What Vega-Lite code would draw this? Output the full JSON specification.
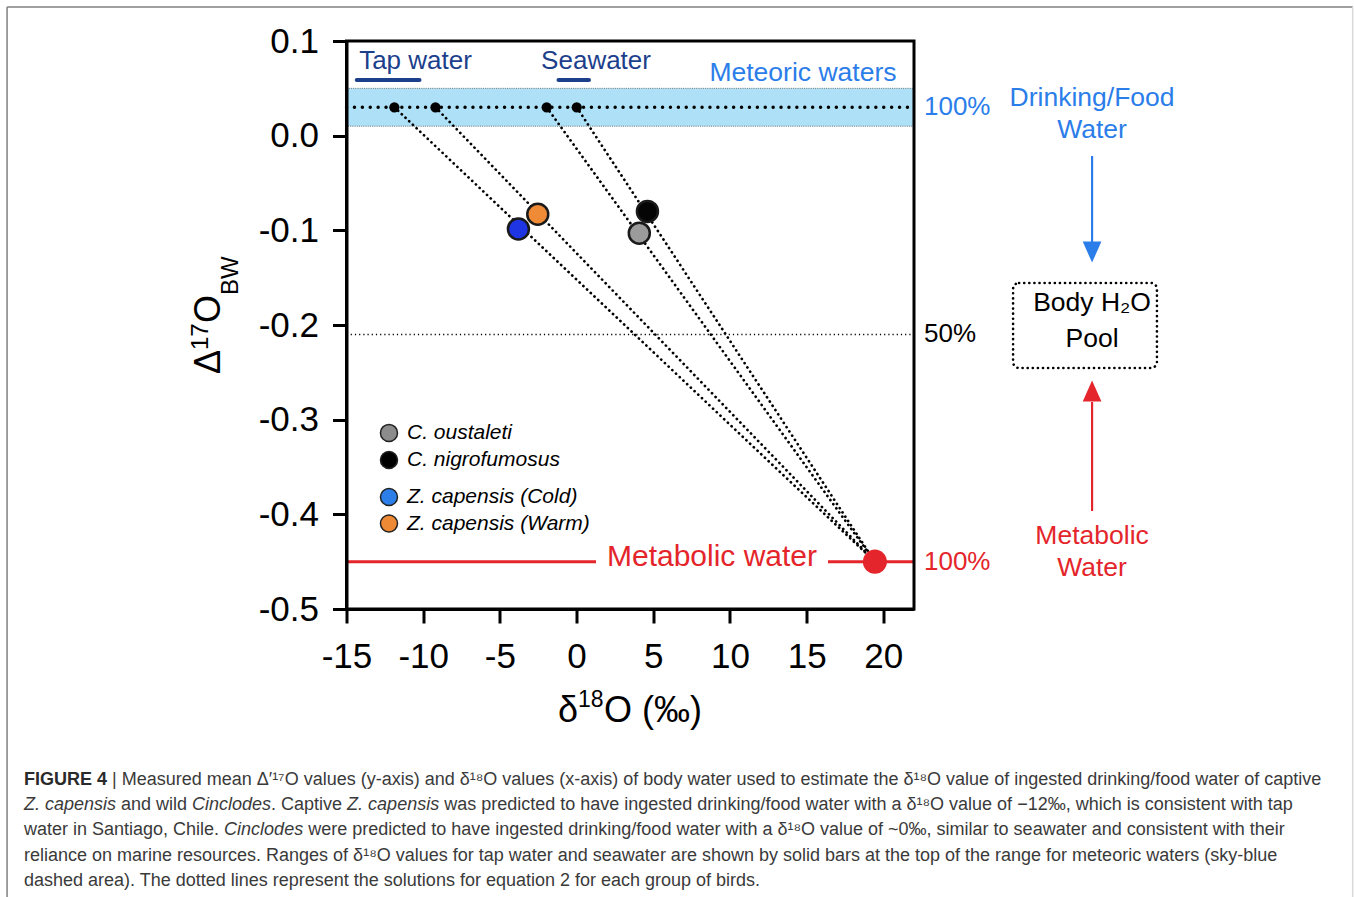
{
  "$schema": "https://vega.github.io/schema/vega-lite/v6.json",
  "width": 567.5,
  "height": 568,
  "autosize": {"type": "none"},
  "padding": {"left": 346.5, "top": 41, "right": 440, "bottom": 288},
  "background": "white",
  "config": {"view": {"stroke": null}, "font": "Liberation Sans"},
  "datasets": {
    "meteoric": [{"x": -15, "x2": 22, "y": 0.01, "y2": 0.05}],
    "halfLine": [{"x": -15, "x2": 22, "y": -0.21}],
    "metabolicLine": [{"x": -15, "x2": 1.27, "y": -0.45}, {"x": 16.39, "x2": 22, "y": -0.45}],
    "drinkingLine": [{"x": -15, "x2": 22, "y": 0.03}],
    "ranges": [{"name": "Tap water", "x": -14.33, "x2": -10.24, "y": 0.0588}, {"name": "Seawater", "x": -1.18, "x2": 0.81, "y": 0.0588}],
    "solutions": [
      {"group": "Z. capensis (Cold)", "x": -11.88, "y": 0.03},
      {"group": "Z. capensis (Cold)", "x": 19.45, "y": -0.45},
      {"group": "Z. capensis (Warm)", "x": -9.2, "y": 0.03},
      {"group": "Z. capensis (Warm)", "x": 19.45, "y": -0.45},
      {"group": "C. oustaleti", "x": -1.95, "y": 0.03},
      {"group": "C. oustaleti", "x": 19.45, "y": -0.45},
      {"group": "C. nigrofumosus", "x": 0.01, "y": 0.03},
      {"group": "C. nigrofumosus", "x": 19.45, "y": -0.45}
    ],
    "sources": [
      {"group": "Z. capensis (Cold)", "x": -11.88, "y": 0.03},
      {"group": "Z. capensis (Warm)", "x": -9.2, "y": 0.03},
      {"group": "C. oustaleti", "x": -1.95, "y": 0.03},
      {"group": "C. nigrofumosus", "x": 0.01, "y": 0.03}
    ],
    "birds": [
      {"species": "C. nigrofumosus", "x": 4.62, "y": -0.08},
      {"species": "Z. capensis (Cold)", "x": -3.79, "y": -0.0986},
      {"species": "C. oustaleti", "x": 4.09, "y": -0.103},
      {"species": "Z. capensis (Warm)", "x": -2.53, "y": -0.083}
    ],
    "metabolic": [{"x": 19.45, "y": -0.45}],
    "legend": [
      {"label": "C. oustaleti", "x": -12.23, "y": -0.314},
      {"label": "C. nigrofumosus", "x": -12.23, "y": -0.3426},
      {"label": "Z. capensis (Cold)", "x": -12.23, "y": -0.3817},
      {"label": "Z. capensis (Warm)", "x": -12.23, "y": -0.4097}
    ],
    "rangeLabels": [{"text": "Tap water", "x": -10.5, "y": 0.0704}, {"text": "Seawater", "x": 1.27, "y": 0.0704}],
    "meteoricLabel": [{"text": "Meteoric waters", "x": 14.76, "y": 0.0577, "kind": "drink"}],
    "metabolicLabel": [{"text": "Metabolic water", "x": 8.83, "y": -0.4546, "kind": "metabolic"}],
    "pctLabels": [
      {"text": "100%", "x": 22.65, "y": 0.03, "kind": "drink"},
      {"text": "50%", "x": 22.65, "y": -0.21, "kind": "half"},
      {"text": "100%", "x": 22.65, "y": -0.45, "kind": "metabolic"}
    ],
    "sideLabels": [
      {"text": "Drinking/Food", "x": 33.61, "y": 0.0398, "kind": "drink"},
      {"text": "Water", "x": 33.61, "y": 0.006, "kind": "drink"},
      {"text": "Body H₂O", "x": 33.61, "y": -0.1768, "kind": "pool"},
      {"text": "Pool", "x": 33.61, "y": -0.2148, "kind": "pool"},
      {"text": "Metabolic", "x": 33.61, "y": -0.4229, "kind": "metabolic"},
      {"text": "Water", "x": 33.61, "y": -0.4567, "kind": "metabolic"}
    ],
    "arrows": [
      {"kind": "drink", "x": 33.61, "y": -0.0215, "y2": -0.1134},
      {"kind": "metabolic", "x": 33.61, "y": -0.2813, "y2": -0.3965}
    ],
    "arrowDown": [{"x": 33.61, "y": -0.123}],
    "arrowUp": [{"x": 33.61, "y": -0.2696}],
    "pool": [{"x": 28.46, "x2": 37.84, "y": -0.1556, "y2": -0.2454}],
    "xTitleBig": [{"text": "δ", "x": -1.21, "y": -0.6194}, {"text": "O (‰)", "x": 1.79, "y": -0.6194}],
    "xTitleSmall": [{"text": "18", "x": 0.09, "y": -0.6035}],
    "yTitleBig": [{"text": "Δ", "x": -23.25, "y": -0.2518}, {"text": "O", "x": -23.25, "y": -0.1979}],
    "yTitleSmall": [{"text": "17", "x": -24.03, "y": -0.2264}, {"text": "BW", "x": -22.07, "y": -0.1683}],
    "captionBold": [{"text": "FIGURE 4", "x": -36.03, "y": -0.6806}],
    "captionItalic": [
      {"text": "Z. capensis", "x": -36.03, "y": -0.7071},
      {"text": "Cinclodes", "x": -25.07, "y": -0.7071},
      {"text": "Z. capensis", "x": -14.96, "y": -0.7071},
      {"text": "Cinclodes", "x": -22.98, "y": -0.7335}
    ],
    "captionNormal": [
      {"text": "| Measured mean Δ′¹⁷O values (y-axis) and δ¹⁸O values (x-axis) of body water used to estimate the δ¹⁸O value of ingested drinking/food water of captive", "x": -30.29, "y": -0.6806},
      {"text": "and wild", "x": -29.7, "y": -0.7071},
      {"text": ". Captive", "x": -19.92, "y": -0.7071},
      {"text": "was predicted to have ingested drinking/food water with a δ¹⁸O value of −12‰, which is consistent with tap", "x": -8.63, "y": -0.7071},
      {"text": "water in Santiago, Chile.", "x": -36.03, "y": -0.7335},
      {"text": "were predicted to have ingested drinking/food water with a δ¹⁸O value of ~0‰, similar to seawater and consistent with their", "x": -17.5, "y": -0.7335},
      {"text": "reliance on marine resources. Ranges of δ¹⁸O values for tap water and seawater are shown by solid bars at the top of the range for meteoric waters (sky-blue", "x": -36.03, "y": -0.7609},
      {"text": "dashed area). The dotted lines represent the solutions for equation 2 for each group of birds.", "x": -36.03, "y": -0.7873}
    ],
    "frameDark": [
      {"x": -37.13, "x2": 50.6, "y": 0.136, "y2": 0.136},
      {"x": -37.13, "x2": -37.13, "y": 0.136, "y2": -0.83}
    ],
    "frameLight": [{"x": 50.6, "x2": 50.6, "y": 0.136, "y2": -0.83}],
    "plotFrame": [{"x": -15, "x2": 22, "y": -0.5, "y2": 0.1}]
  },
  "encoding": {
    "x": {
      "field": "x", "type": "quantitative",
      "scale": {"domain": [-15, 22], "nice": false, "zero": false},
      "axis": {
        "values": [-15, -10, -5, 0, 5, 10, 15, 20], "title": null, "grid": false,
        "domainColor": "black", "domainWidth": 3, "tickColor": "black", "tickWidth": 3, "tickSize": 14,
        "labelFontSize": 35, "labelFont": "Liberation Sans", "labelColor": "black", "labelPadding": 16,
        "labelFlush": false, "labelOverlap": false, "labelBound": false,
        "labelExpr": "replace(datum.label, '\u2212', '-')", "zindex": 1
      }
    },
    "y": {
      "field": "y", "type": "quantitative",
      "scale": {"domain": [-0.5, 0.1], "nice": false, "zero": false},
      "axis": {
        "values": [-0.5, -0.4, -0.3, -0.2, -0.1, 0, 0.1], "format": ".1f", "title": null, "grid": false,
        "domainColor": "black", "domainWidth": 3, "tickColor": "black", "tickWidth": 3, "tickSize": 14,
        "labelFontSize": 35, "labelFont": "Liberation Sans", "labelColor": "black", "labelPadding": 14,
        "labelFlush": false, "labelOverlap": false, "labelBound": false,
        "labelExpr": "replace(datum.label, '\u2212', '-')", "zindex": 1
      }
    }
  },
  "resolve": {"scale": {"fill": "independent"}},
  "layer": [
    {
      "data": {"name": "meteoric"},
      "mark": {"type": "rect", "fill": "#aee1f7", "stroke": "#6f6f6f", "strokeWidth": 1, "strokeDash": [1, 1.2]},
      "encoding": {"x2": {"field": "x2"}, "y2": {"field": "y2"}}
    },
    {
      "data": {"name": "halfLine"},
      "mark": {"type": "rule", "color": "black", "strokeWidth": 1.5, "strokeDash": [1.2, 3]},
      "encoding": {"x2": {"field": "x2"}}
    },
    {
      "data": {"name": "metabolicLine"},
      "mark": {"type": "rule", "color": "#e4252b", "strokeWidth": 3},
      "encoding": {"x2": {"field": "x2"}}
    },
    {
      "data": {"name": "drinkingLine"},
      "mark": {"type": "rule", "color": "black", "strokeWidth": 3.4, "strokeDash": [0.1, 7.8], "strokeCap": "round"},
      "encoding": {"x2": {"field": "x2"}}
    },
    {
      "data": {"name": "ranges"},
      "mark": {"type": "rule", "color": "#1c3f8c", "strokeWidth": 4, "strokeCap": "round"},
      "encoding": {"x2": {"field": "x2"}}
    },
    {
      "data": {"name": "solutions"},
      "mark": {"type": "line", "color": "black", "strokeWidth": 2.7, "strokeDash": [0.1, 5], "strokeCap": "round"},
      "encoding": {"detail": {"field": "group", "type": "nominal"}}
    },
    {
      "data": {"name": "sources"},
      "mark": {"type": "point", "filled": true, "color": "black", "size": 105, "opacity": 1}
    },
    {
      "data": {"name": "birds"},
      "mark": {"type": "point", "filled": true, "size": 440, "opacity": 1, "stroke": "#1a1a1a", "strokeWidth": 2.5},
      "encoding": {
        "fill": {"field": "species", "type": "nominal", "legend": null,
          "scale": {"domain": ["C. oustaleti", "C. nigrofumosus", "Z. capensis (Cold)", "Z. capensis (Warm)"],
                    "range": ["#9b9b9b", "#050505", "#1f35e3", "#ef8a37"]}}
      }
    },
    {
      "data": {"name": "metabolic"},
      "mark": {"type": "point", "filled": true, "color": "#e4252b", "size": 580, "opacity": 1}
    },
    {
      "data": {"name": "legend"},
      "mark": {"type": "point", "filled": true, "size": 290, "opacity": 1, "stroke": "#222222", "strokeWidth": 1.5},
      "encoding": {
        "fill": {"field": "label", "type": "nominal", "legend": null,
          "scale": {"domain": ["C. oustaleti", "C. nigrofumosus", "Z. capensis (Cold)", "Z. capensis (Warm)"],
                    "range": ["#8c8c8c", "#000000", "#2c7fe8", "#ee8a36"]}}
      }
    },
    {
      "data": {"name": "legend"},
      "mark": {"type": "text", "align": "left", "baseline": "middle", "dx": 18, "fontSize": 21, "fontStyle": "italic", "font": "Liberation Sans", "color": "black"},
      "encoding": {"text": {"field": "label", "type": "nominal"}}
    },
    {
      "data": {"name": "rangeLabels"},
      "mark": {"type": "text", "align": "center", "baseline": "alphabetic", "fontSize": 26, "font": "Liberation Sans", "color": "#1c3f8c"},
      "encoding": {"text": {"field": "text", "type": "nominal"}}
    },
    {
      "data": {"name": "meteoricLabel"},
      "mark": {"type": "text", "align": "center", "baseline": "alphabetic", "fontSize": 26.5, "font": "Liberation Sans"},
      "encoding": {
        "text": {"field": "text", "type": "nominal"},
        "color": {"field": "kind", "type": "nominal", "legend": null,
          "scale": {"domain": ["drink", "half", "pool", "metabolic"], "range": ["#2b7de9", "#000000", "#000000", "#e4252b"]}}
      }
    },
    {
      "data": {"name": "metabolicLabel"},
      "mark": {"type": "text", "align": "center", "baseline": "alphabetic", "fontSize": 30, "font": "Liberation Sans"},
      "encoding": {
        "text": {"field": "text", "type": "nominal"},
        "color": {"field": "kind", "type": "nominal", "legend": null,
          "scale": {"domain": ["drink", "half", "pool", "metabolic"], "range": ["#2b7de9", "#000000", "#000000", "#e4252b"]}}
      }
    },
    {
      "data": {"name": "pctLabels"},
      "mark": {"type": "text", "align": "left", "baseline": "middle", "fontSize": 26, "font": "Liberation Sans"},
      "encoding": {
        "text": {"field": "text", "type": "nominal"},
        "color": {"field": "kind", "type": "nominal", "legend": null,
          "scale": {"domain": ["drink", "half", "pool", "metabolic"], "range": ["#2b7de9", "#000000", "#000000", "#e4252b"]}}
      }
    },
    {
      "data": {"name": "sideLabels"},
      "mark": {"type": "text", "align": "center", "baseline": "middle", "fontSize": 26.5, "font": "Liberation Sans"},
      "encoding": {
        "text": {"field": "text", "type": "nominal"},
        "color": {"field": "kind", "type": "nominal", "legend": null,
          "scale": {"domain": ["drink", "half", "pool", "metabolic"], "range": ["#2b7de9", "#000000", "#000000", "#e4252b"]}}
      }
    },
    {
      "data": {"name": "arrows"},
      "mark": {"type": "rule", "strokeWidth": 2.2},
      "encoding": {
        "y2": {"field": "y2"},
        "color": {"field": "kind", "type": "nominal", "legend": null,
          "scale": {"domain": ["drink", "half", "pool", "metabolic"], "range": ["#2b7de9", "#000000", "#000000", "#e4252b"]}}
      }
    },
    {
      "data": {"name": "arrowDown"},
      "mark": {"type": "point", "filled": true, "opacity": 1, "color": "#2b7de9", "size": 441, "shape": "M-0.89,-1L0.89,-1L0,1Z"}
    },
    {
      "data": {"name": "arrowUp"},
      "mark": {"type": "point", "filled": true, "opacity": 1, "color": "#e4252b", "size": 441, "shape": "M-0.89,1L0.89,1L0,-1Z"}
    },
    {
      "data": {"name": "pool"},
      "mark": {"type": "rect", "fillOpacity": 0, "stroke": "black", "strokeWidth": 2.6, "strokeDash": [0.1, 5], "strokeCap": "round", "cornerRadius": 6},
      "encoding": {"x2": {"field": "x2"}, "y2": {"field": "y2"}}
    },
    {
      "data": {"name": "plotFrame"},
      "mark": {"type": "rect", "fillOpacity": 0, "stroke": "black", "strokeWidth": 3},
      "encoding": {"x2": {"field": "x2"}, "y2": {"field": "y2"}}
    },
    {
      "data": {"name": "xTitleBig"},
      "mark": {"type": "text", "align": "left", "baseline": "alphabetic", "fontSize": 36, "font": "Liberation Sans", "color": "black"},
      "encoding": {"text": {"field": "text", "type": "nominal"}}
    },
    {
      "data": {"name": "xTitleSmall"},
      "mark": {"type": "text", "align": "left", "baseline": "alphabetic", "fontSize": 23, "font": "Liberation Sans", "color": "black"},
      "encoding": {"text": {"field": "text", "type": "nominal"}}
    },
    {
      "data": {"name": "yTitleBig"},
      "mark": {"type": "text", "align": "left", "baseline": "alphabetic", "angle": 270, "fontSize": 36, "font": "Liberation Sans", "color": "black"},
      "encoding": {"text": {"field": "text", "type": "nominal"}}
    },
    {
      "data": {"name": "yTitleSmall"},
      "mark": {"type": "text", "align": "left", "baseline": "alphabetic", "angle": 270, "fontSize": 24, "font": "Liberation Sans", "color": "black"},
      "encoding": {"text": {"field": "text", "type": "nominal"}}
    },
    {
      "data": {"name": "captionBold"},
      "mark": {"type": "text", "align": "left", "baseline": "middle", "fontSize": 18, "fontWeight": "bold", "font": "Liberation Sans", "color": "#2a2a2a"},
      "encoding": {"text": {"field": "text", "type": "nominal"}}
    },
    {
      "data": {"name": "captionItalic"},
      "mark": {"type": "text", "align": "left", "baseline": "middle", "fontSize": 18, "fontStyle": "italic", "font": "Liberation Sans", "color": "#3a3a3a"},
      "encoding": {"text": {"field": "text", "type": "nominal"}}
    },
    {
      "data": {"name": "captionNormal"},
      "mark": {"type": "text", "align": "left", "baseline": "middle", "fontSize": 18, "font": "Liberation Sans", "color": "#3a3a3a"},
      "encoding": {"text": {"field": "text", "type": "nominal"}}
    },
    {
      "data": {"name": "frameDark"},
      "mark": {"type": "rule", "color": "#808080", "strokeWidth": 1.5},
      "encoding": {"x2": {"field": "x2"}, "y2": {"field": "y2"}}
    },
    {
      "data": {"name": "frameLight"},
      "mark": {"type": "rule", "color": "#d8d8d8", "strokeWidth": 1.5},
      "encoding": {"x2": {"field": "x2"}, "y2": {"field": "y2"}}
    }
  ]
}
